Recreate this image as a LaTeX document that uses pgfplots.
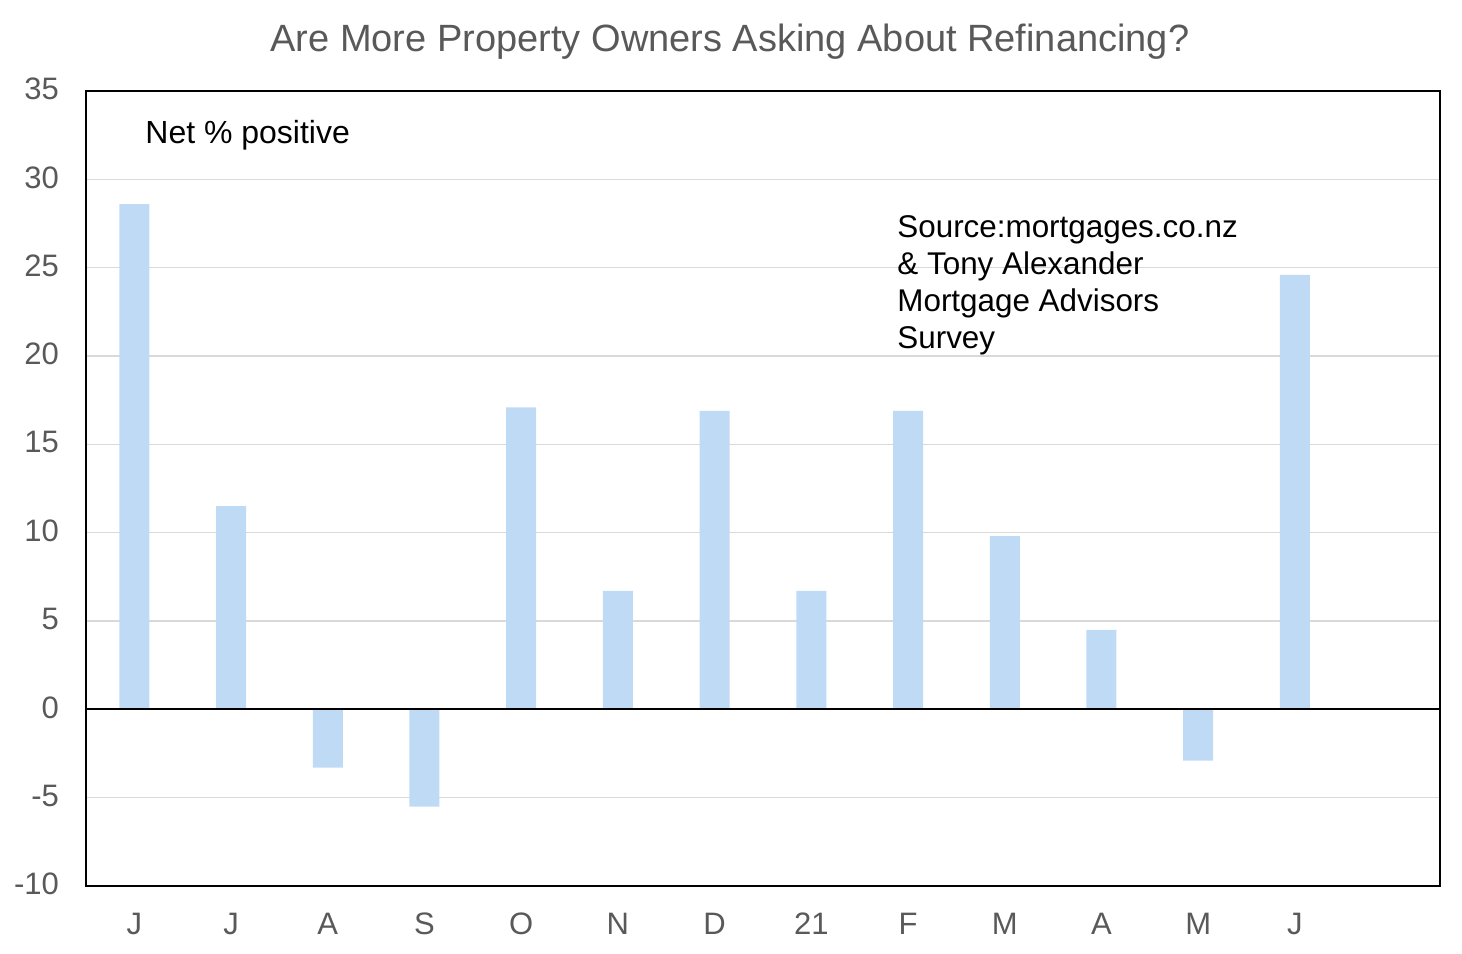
\documentclass[border=0pt]{standalone}
\usepackage{pgfplots}
\pgfplotsset{compat=1.18}
\usepackage{fontspec}
\setmainfont{Liberation Sans}
\definecolor{barblue}{RGB}{190,218,245}
\definecolor{tickgray}{RGB}{89,89,89}
\definecolor{gridgray}{RGB}{217,217,217}
\begin{document}
\begin{tikzpicture}
\begin{axis}[
  scale only axis,
  width=677pt, height=397.5pt,
  xmin=-0.5, xmax=13.5,
  ymin=-10, ymax=35,
  xtick={0,...,12},
  xticklabels={J,J,A,S,O,N,D,21,F,M,A,M,J},
  ytick={-10,-5,0,5,10,15,20,25,30,35},
  yticklabels={-10,-5,0,5,10,15,20,25,30,35},
  major tick length=0pt,
  ymajorgrids,
  grid style={gridgray, line width=0.6pt},
  axis line style={black, line width=0.9pt},
  tick label style={font=\fontsize{15.5}{18}\selectfont, text=tickgray},
  xticklabel style={yshift=-10pt},
  yticklabel style={xshift=-10pt, yshift=1pt},
  clip=false,
  axis on top=false,
]
\addplot[ybar, bar width=15pt, fill=barblue, draw=none] coordinates {
  (0,28.6) (1,11.5) (2,-3.3) (3,-5.5) (4,17.1) (5,6.7) (6,16.9)
  (7,6.7) (8,16.9) (9,9.8) (10,4.5) (11,-2.9) (12,24.6)
};
\draw[black, line width=0.9pt] (axis cs:-0.5,0) -- (axis cs:13.5,0);
\node[anchor=west, inner sep=0pt, font=\fontsize{16}{18}\selectfont] at (rel axis cs:0.0436,0.945) {Net \% positive};
\node[anchor=north west, align=left, font=\fontsize{15.7}{18.5}\selectfont, inner sep=0pt] at (rel axis cs:0.599,0.844) {Source:mortgages.co.nz\\\& Tony Alexander\\Mortgage Advisors\\Survey};
\node[font=\fontsize{19}{22}\selectfont, text=tickgray] at (rel axis cs:0.4756,1.062) {Are More Property Owners Asking About Refinancing?};
\path (rel axis cs:-0.0635,-0.0855) rectangle (rel axis cs:1.0163,1.1145);
\end{axis}
\end{tikzpicture}
\end{document}
